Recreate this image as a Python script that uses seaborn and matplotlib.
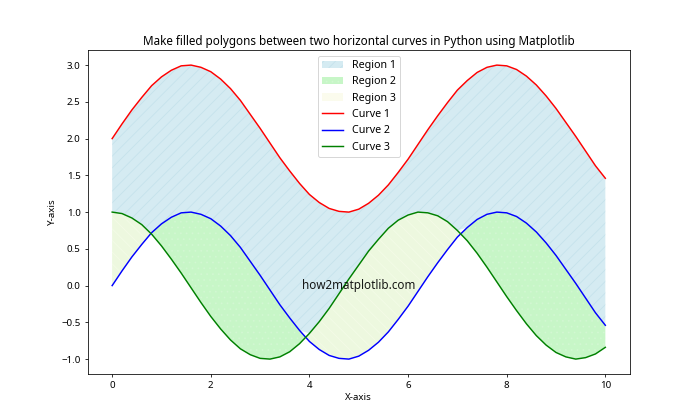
import numpy as np
import pandas as pd
import seaborn as sns
import matplotlib.pyplot as plt

# values, step 0.2 on x
x = [0.0, 0.2, 0.4, 0.6, 0.8, 1.0, 1.2, 1.4, 1.6, 1.8,
     2.0, 2.2, 2.4, 2.6, 2.8, 3.0, 3.2, 3.4, 3.6, 3.8,
     4.0, 4.2, 4.4, 4.6, 4.8, 5.0, 5.2, 5.4, 5.6, 5.8,
     6.0, 6.2, 6.4, 6.6, 6.8, 7.0, 7.2, 7.4, 7.6, 7.8,
     8.0, 8.2, 8.4, 8.6, 8.8, 9.0, 9.2, 9.4, 9.6, 9.8, 10.0]
curve1 = [2.00, 2.20, 2.39, 2.56, 2.72, 2.84, 2.93, 2.99, 3.00, 2.97,
          2.91, 2.81, 2.68, 2.52, 2.33, 2.14, 1.94, 1.74, 1.56, 1.39,
          1.24, 1.13, 1.05, 1.01, 1.00, 1.04, 1.12, 1.23, 1.37, 1.54,
          1.72, 1.92, 2.12, 2.31, 2.49, 2.66, 2.79, 2.90, 2.97, 3.00,
          2.99, 2.94, 2.85, 2.73, 2.58, 2.41, 2.22, 2.03, 1.83, 1.63, 1.46]
curve2 = [0.00, 0.20, 0.39, 0.56, 0.72, 0.84, 0.93, 0.99, 1.00, 0.97,
          0.91, 0.81, 0.68, 0.52, 0.33, 0.14, -0.06, -0.26, -0.44, -0.61,
          -0.76, -0.87, -0.95, -0.99, -1.00, -0.96, -0.88, -0.77, -0.63, -0.46,
          -0.28, -0.08, 0.12, 0.31, 0.49, 0.66, 0.79, 0.90, 0.97, 1.00,
          0.99, 0.94, 0.85, 0.73, 0.58, 0.41, 0.22, 0.03, -0.17, -0.37, -0.54]
curve3 = [1.00, 0.98, 0.92, 0.83, 0.70, 0.54, 0.36, 0.17, -0.03, -0.23,
          -0.42, -0.59, -0.74, -0.86, -0.94, -0.99, -1.00, -0.97, -0.90, -0.79,
          -0.65, -0.49, -0.31, -0.11, 0.09, 0.28, 0.47, 0.63, 0.78, 0.89,
          0.96, 1.00, 0.99, 0.95, 0.87, 0.75, 0.61, 0.44, 0.25, 0.05,
          -0.15, -0.34, -0.52, -0.68, -0.81, -0.91, -0.97, -1.00, -0.98, -0.93, -0.84]

df = pd.DataFrame({"x": x, "c1": curve1, "c2": curve2, "c3": curve3})
upper_low = np.maximum(df["c2"], df["c3"])
c2_above = df["c2"] >= df["c3"]

plt.rcParams["font.family"] = ["Noto Sans", "DejaVu Sans"]
plt.rcParams["hatch.linewidth"] = 0.8

fig, ax = plt.subplots(figsize=(10, 6), dpi=70)

ax.fill_between(df["x"], df["c1"], upper_low, facecolor="lightblue",
                edgecolor="#b4d8e4", linewidth=0, alpha=0.5, hatch="//",
                label="Region 1", interpolate=True)
ax.fill_between(df["x"], df["c2"], df["c3"], where=c2_above, facecolor="lightgreen",
                edgecolor="#d8f8d8", linewidth=0, alpha=0.5, hatch="..",
                label="Region 2", interpolate=True)
# faint green underlay seen under region 3
ax.fill_between(df["x"], df["c2"], df["c3"], where=~c2_above, facecolor="lightgreen",
                linewidth=0, alpha=0.25, interpolate=True)
ax.fill_between(df["x"], df["c2"], df["c3"], where=~c2_above, facecolor="#f8f8dc",
                edgecolor="#fafff0", linewidth=0, alpha=0.5, hatch="\\\\",
                label="Region 3", interpolate=True)

sns.lineplot(data=df, x="x", y="c1", color="red", label="Curve 1", ax=ax)
sns.lineplot(data=df, x="x", y="c2", color="blue", label="Curve 2", ax=ax)
sns.lineplot(data=df, x="x", y="c3", color="green", label="Curve 3", ax=ax)

ax.text(5, 0, "how2matplotlib.com", fontsize=12, ha="center", va="center", alpha=0.9)

ax.set_title("Make filled polygons between two horizontal curves in Python using Matplotlib",
             fontsize=12)
ax.set_xlabel("X-axis")
ax.set_ylabel("Y-axis")
ax.legend(loc="upper center", fontsize=11)

plt.savefig("out.png", dpi=70)
